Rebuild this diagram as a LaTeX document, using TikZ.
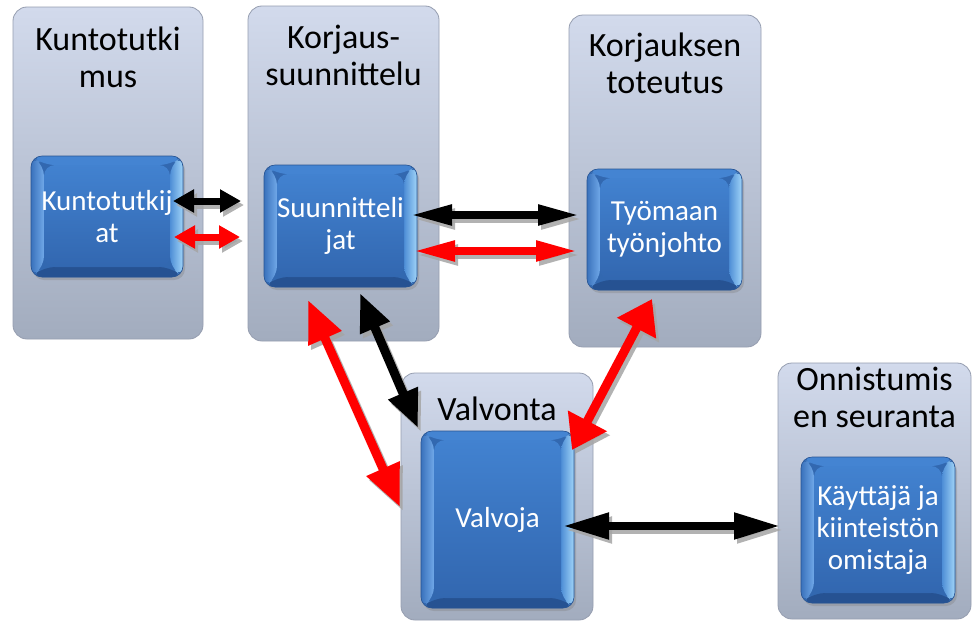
\documentclass[tikz,border=0pt]{standalone}
\usepackage{fontspec}
\setmainfont{Carlito}
\usetikzlibrary{arrows.meta,shadows,calc}
\definecolor{paneltop}{RGB}{210,218,236}
\definecolor{panelbot}{RGB}{162,172,190}
\definecolor{panelborder}{RGB}{150,158,176}
\definecolor{boxbase}{RGB}{50,104,176}
\definecolor{boxedge}{RGB}{40,84,146}
\definecolor{facetop}{RGB}{66,130,208}
\definecolor{facebot}{RGB}{50,103,176}
\definecolor{bevtopc}{RGB}{68,132,210}
\definecolor{bevbotc}{RGB}{38,82,146}
\definecolor{bevlout}{RGB}{58,114,188}
\definecolor{bevlin}{RGB}{112,168,232}
\definecolor{bevrin}{RGB}{78,142,214}
\definecolor{bevrout}{RGB}{160,212,248}
\definecolor{arrshadow}{RGB}{165,165,165}
\definecolor{arrred}{RGB}{255,0,0}
\newcommand\duoarrow[6]{%
  \draw[line width=#2pt, draw=arrshadow, fill=arrshadow, opacity=0.85,
        arrows={Triangle[length=#3pt,width=#4pt]-Triangle[length=#3pt,width=#4pt]}]
        ([shift={(3,4)}]#5) -- ([shift={(3,4)}]#6);
  \draw[line width=#2pt, draw=#1, fill=#1,
        arrows={Triangle[length=#3pt,width=#4pt]-Triangle[length=#3pt,width=#4pt]}]
        (#5) -- (#6);
}
\begin{document}
\begin{tikzpicture}[x=1pt,y=-1pt,
  panel/.style={draw=panelborder, line width=0.8pt, rounded corners=14pt,
    top color=paneltop, bottom color=panelbot, inner sep=0pt},
  ptitle/.style={align=center, inner sep=0pt, text=black,
    font=\fontsize{34}{37}\selectfont},
  innerbox/.style={rounded corners=11pt, fill=boxbase, draw=boxedge, line width=0.6pt,
    drop shadow={opacity=0.35, shadow xshift=2pt, shadow yshift=-3pt},
    text=white, align=center, inner sep=0pt,
    font=\fontsize{29}{32}\selectfont,
    path picture={
      \path (path picture bounding box.north west) coordinate (pnw)
            (path picture bounding box.south east) coordinate (pse);
      \coordinate (pne) at (pse|-pnw);
      \coordinate (psw) at (pnw|-pse);
      \coordinate (fnw) at ($(pnw)+(13,9)$);
      \coordinate (fse) at ($(pse)+(-13,-10)$);
      \coordinate (fne) at (fse|-fnw);
      \coordinate (fsw) at (fnw|-fse);
      \fill[bevtopc] (pnw) -- (pne) -- (fne) -- (fnw) -- cycle;
      \fill[bevbotc] (psw) -- (pse) -- (fse) -- (fsw) -- cycle;
      \shade[left color=bevlout, right color=bevlin] (pnw) -- (fnw) -- (fsw) -- (psw) -- cycle;
      \shade[left color=bevrin, right color=bevrout] (pne) -- (fne) -- (fse) -- (pse) -- cycle;
      \shade[top color=facetop, bottom color=facebot] (fnw) rectangle (fse);
    }}
]
\useasboundingbox (0,0) rectangle (973,621);
\fill[white] (0,0) rectangle (973,621);

% panels
\node[panel, minimum width=190pt, minimum height=332pt] (p1) at (108,173) {};
\node[panel, minimum width=191pt, minimum height=335pt] (p2) at (343.5,173.5) {};
\node[panel, minimum width=192pt, minimum height=332pt] (p3) at (665,181) {};
\node[panel, minimum width=192pt, minimum height=247pt] (p4) at (497,496.5) {};
\node[panel, minimum width=193pt, minimum height=256pt] (p5) at (874.5,491) {};

% titles (base = baseline of last line)
\node[ptitle, anchor=base] (t1) at (108,87) {Kuntotutki\\mus};
\node[ptitle, anchor=base] (t2) at (343.5,85) {Korjaus-\\suunnittelu};
\node[ptitle, anchor=base] (t3) at (665,93) {Korjauksen\\toteutus};
\node[ptitle, anchor=base] (t4) at (497,420) {Valvonta};
\node[ptitle, anchor=base] (t5) at (874.5,427) {Onnistumis\\en seuranta};

% inner boxes
\node[innerbox, minimum width=152pt, minimum height=121pt] (b1) at (107,216.5) {Kuntotutkij\\at};
\node[innerbox, minimum width=153pt, minimum height=122pt] (b2) at (340.5,226) {Suunnitteli\\jat};
\node[innerbox, minimum width=155pt, minimum height=121pt] (b3) at (664.5,229.5) {Työmaan\\työnjohto};
\node[innerbox, minimum width=153pt, minimum height=177pt] (b4) at (497.5,519.5) {Valvoja};
\node[innerbox, minimum width=154pt, minimum height=146pt] (b5) at (878,530) {Käyttäjä ja\\kiinteistön\\omistaja};

% connector end points
\coordinate (a1s) at (173,201);   \coordinate (a1e) at (241,201);
\coordinate (a2s) at (174,237);   \coordinate (a2e) at (240,237);
\coordinate (a3s) at (410,215);   \coordinate (a3e) at (580,215);
\coordinate (a4s) at (413,251);   \coordinate (a4e) at (578,251);
\coordinate (a5s) at (360,293);   \coordinate (a5e) at (418,428);
\coordinate (a6s) at (308,300);   \coordinate (a6e) at (400,507);
\coordinate (a7s) at (652,299);   \coordinate (a7e) at (572,450);
\coordinate (a8s) at (563,526);   \coordinate (a8e) at (780,526);

% connectors
\duoarrow{black}{7}{21}{22}{a1s}{a1e}
\duoarrow{arrred}{7}{21}{22}{a2s}{a2e}
\duoarrow{black}{8}{42}{19}{a3s}{a3e}
\duoarrow{arrred}{8}{42}{19}{a4s}{a4e}
\duoarrow{black}{9}{38}{30}{a5s}{a5e}
\duoarrow{arrred}{9}{42}{34}{a6s}{a6e}
\duoarrow{arrred}{9}{33}{42}{a7s}{a7e}
\duoarrow{black}{8}{46}{25}{a8s}{a8e}
\end{tikzpicture}
\end{document}
